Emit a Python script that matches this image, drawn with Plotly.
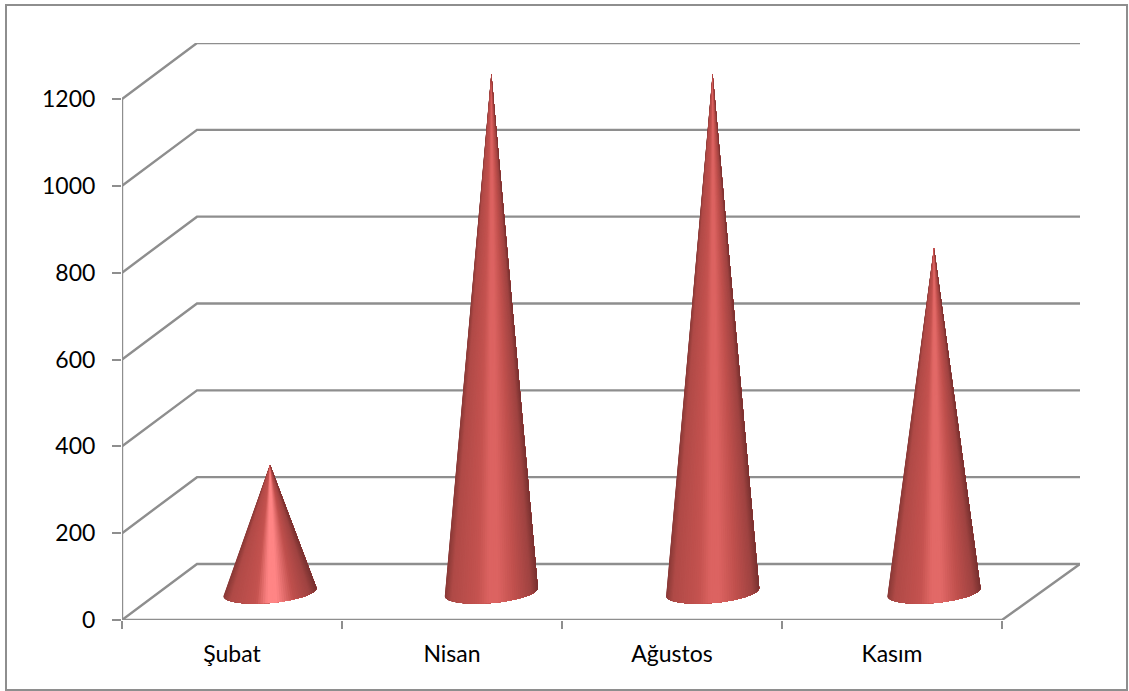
import math
import plotly.graph_objects as go

categories = ["Şubat", "Nisan", "Ağustos", "Kasım"]
values = [300, 1200, 1200, 800]
y_ticks = [0, 200, 400, 600, 800, 1000, 1200]
highlights = ["#ff8585", "#dc6361", "#dc6361", "#e26967"]

W, H = 1129, 691
X0, X_END, Y0, Y_END = 122, 1080, 620, 43
PX_PER_CAT = 220.0
PX_PER_UNIT = (620 - 99) / 1200.0
GRID = "#8e8e8e"
DX_L = 75 / PX_PER_CAT
DY = 56 / PX_PER_UNIT
x_lo, x_hi = -0.5, -0.5 + (X_END - X0) / PX_PER_CAT
n = len(categories)
y_hi = (Y0 - Y_END) / PX_PER_UNIT

def hex2rgb(h):
    return [int(h[i:i + 2], 16) for i in (1, 3, 5)]

def shade(u, peak):
    stops = [(-1.0, "#8a3937"), (-0.85, "#b04a47"), (-0.3, "#c4524f"), (-0.05, peak),
             (0.15, peak), (0.5, "#c0504d"), (0.85, "#a04341"), (1.0, "#7a3231")]
    for (a, ca), (b, cb) in zip(stops, stops[1:]):
        if a <= u <= b:
            k = (u - a) / (b - a)
            ra, rb = hex2rgb(ca), hex2rgb(cb)
            return "rgb(%d,%d,%d)" % tuple(round(p + (q - p) * k) for p, q in zip(ra, rb))
    return stops[-1][1]

fig = go.Figure()

def seg(xs, ys, width=2.4):
    fig.add_trace(go.Scatter(x=xs, y=ys, mode="lines", cliponaxis=False, hoverinfo="skip",
                             showlegend=False, line=dict(color=GRID, width=width)))

for v in y_ticks:
    seg([x_lo, x_lo + DX_L, x_hi], [v, v + DY, v + DY])
seg([x_lo, x_lo], [0, y_ticks[-1]])
seg([x_lo, n - 0.5, x_hi], [0, 0, DY])

# cones: painter's strips from apex to the remaining base arc, so no seams appear
A = 46.5 / PX_PER_CAT
B = 11 / PX_PER_UNIT
TILT = 4 / PX_PER_UNIT
BASE = 28 / PX_PER_UNIT
APEX_LIFT = 25 / PX_PER_UNIT
STRIPS = 60
for i, v in enumerate(values):
    cx = i * 1.006 + 38 / PX_PER_CAT
    ax, ay = cx, v + APEX_LIFT
    arc = [math.pi + math.pi * s / STRIPS for s in range(STRIPS + 1)]
    for s in range(STRIPS):
        ts = arc[s:]
        xs = [ax] + [cx + A * math.cos(t) for t in ts] + [ax]
        ys = [ay] + [BASE + B * math.sin(t) + TILT * math.cos(t) for t in ts] + [ay]
        col = shade(math.cos((arc[s] + arc[s + 1]) / 2), highlights[i])
        fig.add_trace(go.Scatter(x=xs, y=ys, mode="none", fill="toself", fillcolor=col,
                                 cliponaxis=False, hoverinfo="skip", showlegend=False))

YFONT = dict(family="Lato", size=23, color="#000000")
XFONT = dict(family="Lato", size=23, color="#000000")
fig.update_layout(
    width=W, height=H, margin=dict(l=0, r=0, t=0, b=0),
    paper_bgcolor="white", plot_bgcolor="rgba(0,0,0,0)", showlegend=False,
    xaxis=dict(domain=[X0 / W, X_END / W], range=[x_lo, x_hi], showgrid=False, zeroline=False,
               automargin=False,
               tickmode="array", tickvals=list(range(n)), ticktext=categories, tickfont=XFONT,
               ticks="outside", ticklen=0, ticklabelstandoff=13,
               minor=dict(tickmode="array", tickvals=[k - 0.5 for k in range(n + 1)], ticks="outside",
                          ticklen=8, tickwidth=2, tickcolor=GRID, showgrid=False)),
    yaxis=dict(domain=[(H - Y0) / H, (H - Y_END) / H], range=[0, y_hi], showgrid=False, zeroline=False,
               automargin=False,
               tickmode="array", tickvals=y_ticks, tickfont=YFONT,
               ticks="outside", ticklen=9, tickwidth=2, tickcolor=GRID, ticklabelstandoff=12),
    shapes=[dict(type="rect", xref="paper", yref="paper", x0=6 / W, x1=1127 / W,
                 y0=1 - 690 / H, y1=1 - 5 / H, line=dict(color=GRID, width=2), layer="below")],
)
fig.write_html("out.html", config=dict(displayModeBar=False),
               post_script="document.body.style.margin='0';document.documentElement.style.overflow='hidden';")
